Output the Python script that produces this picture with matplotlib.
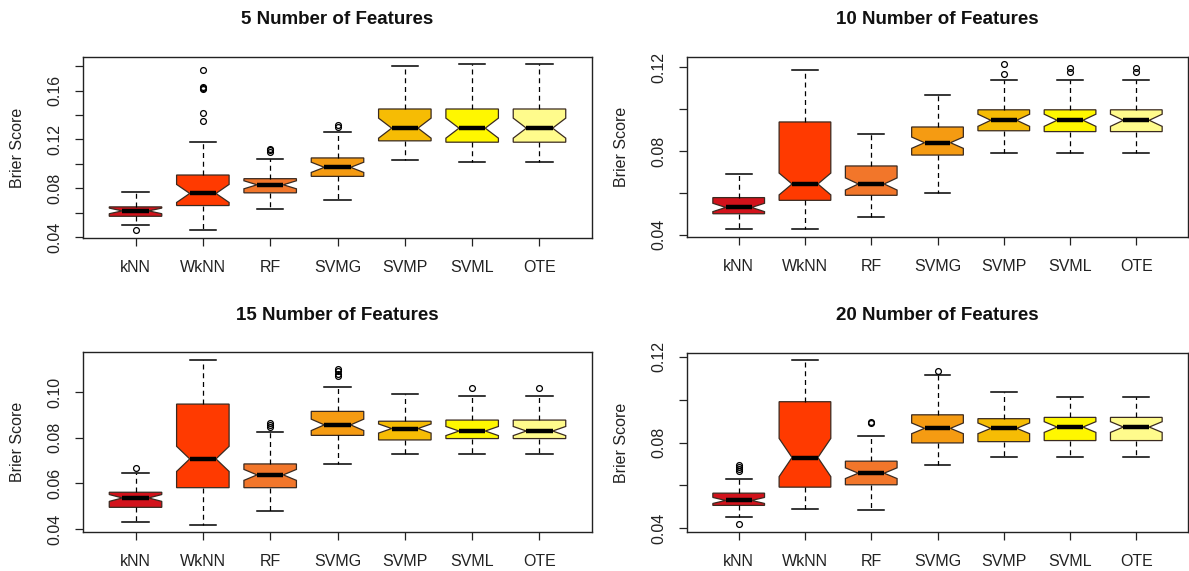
import matplotlib
matplotlib.use("Agg")
import matplotlib.pyplot as plt
import numpy as np

plt.rcParams['font.family'] = ['Liberation Sans', 'DejaVu Sans']

methods = ["kNN", "WkNN", "RF", "SVMG", "SVMP", "SVML", "OTE"]
colors = ["#D2121B", "#FF3A00", "#F2762A", "#F59B12", "#F6BC04", "#FFF700", "#FFFB8C"]
titles = ["5 Number of Features", "10 Number of Features",
          "15 Number of Features", "20 Number of Features"]

# box statistics (Brier score)
f5_whislo = [0.0496, 0.0455, 0.0633, 0.0702, 0.1029, 0.1015, 0.1015]
f5_q1 = [0.0570, 0.0658, 0.0762, 0.0897, 0.1188, 0.1177, 0.1177]
f5_med = [0.0614, 0.0757, 0.0828, 0.0971, 0.1292, 0.1292, 0.1292]
f5_q3 = [0.0647, 0.0908, 0.0878, 0.1048, 0.1449, 0.1449, 0.1449]
f5_whishi = [0.0765, 0.1180, 0.1037, 0.1260, 0.1800, 0.1814, 0.1814]
f5_notch = [0.0023, 0.0074, 0.0033, 0.0042, 0.0082, 0.0082, 0.0082]
f5_fliers = [[0.0455], [0.135, 0.142, 0.161, 0.162, 0.163, 0.1765],
             [0.110, 0.111, 0.1125], [0.130, 0.132], [], [], []]

f10_whislo = [0.0425, 0.0425, 0.0483, 0.0600, 0.0791, 0.0791, 0.0791]
f10_q1 = [0.0500, 0.0564, 0.0588, 0.0780, 0.0896, 0.0892, 0.0892]
f10_med = [0.0530, 0.0642, 0.0642, 0.0839, 0.0946, 0.0946, 0.0946]
f10_q3 = [0.0577, 0.0938, 0.0728, 0.0914, 0.0996, 0.0996, 0.0996]
f10_whishi = [0.0688, 0.1184, 0.0880, 0.1066, 0.1136, 0.1136, 0.1136]
f10_notch = [0.0020, 0.0052, 0.0029, 0.0027, 0.0029, 0.0029, 0.0029]
f10_fliers = [[], [], [], [], [0.1165, 0.1216], [0.1175, 0.1197], [0.1175, 0.1197]]

f15_whislo = [0.0432, 0.0418, 0.0480, 0.0683, 0.0727, 0.0727, 0.0727]
f15_q1 = [0.0495, 0.0581, 0.0581, 0.0810, 0.0790, 0.0796, 0.0796]
f15_med = [0.0536, 0.0707, 0.0637, 0.0856, 0.0840, 0.0829, 0.0829]
f15_q3 = [0.0561, 0.0947, 0.0685, 0.0915, 0.0872, 0.0877, 0.0877]
f15_whishi = [0.0647, 0.1140, 0.0823, 0.1022, 0.0990, 0.0984, 0.0984]
f15_notch = [0.0015, 0.0055, 0.0024, 0.0025, 0.0020, 0.0020, 0.0020]
f15_fliers = [[0.0669], [], [0.0848, 0.0857, 0.0866], [0.107, 0.108, 0.109, 0.110],
              [], [0.1016], [0.1016]]

f20_whislo = [0.0451, 0.0491, 0.0485, 0.0696, 0.0734, 0.0734, 0.0734]
f20_q1 = [0.0507, 0.0592, 0.0603, 0.0798, 0.0804, 0.0809, 0.0809]
f20_med = [0.0530, 0.0730, 0.0657, 0.0866, 0.0866, 0.0872, 0.0872]
f20_q3 = [0.0564, 0.0990, 0.0713, 0.0929, 0.0911, 0.0917, 0.0917]
f20_whishi = [0.0632, 0.1183, 0.0832, 0.1115, 0.1034, 0.1013, 0.1013]
f20_notch = [0.0014, 0.0089, 0.0025, 0.0025, 0.0025, 0.0025, 0.0025]
f20_fliers = [[0.0419, 0.0668, 0.0675, 0.0685, 0.0696], [], [0.0889, 0.0897],
              [0.1133], [], [], []]

panels = [
    (f5_whislo, f5_q1, f5_med, f5_q3, f5_whishi, f5_notch, f5_fliers),
    (f10_whislo, f10_q1, f10_med, f10_q3, f10_whishi, f10_notch, f10_fliers),
    (f15_whislo, f15_q1, f15_med, f15_q3, f15_whishi, f15_notch, f15_fliers),
    (f20_whislo, f20_q1, f20_med, f20_q3, f20_whishi, f20_notch, f20_fliers),
]
ylims = [(0.0392, 0.1875), (0.0389, 0.1248), (0.0387, 0.1175), (0.0383, 0.1217)]
yticks = [[0.04, 0.06, 0.08, 0.10, 0.12, 0.14, 0.16, 0.18],
          [0.04, 0.06, 0.08, 0.10, 0.12],
          [0.04, 0.06, 0.08, 0.10],
          [0.04, 0.06, 0.08, 0.10, 0.12]]
ylabels_shown = [[0.04, 0.08, 0.12, 0.16], [0.04, 0.08, 0.12],
                 [0.04, 0.06, 0.08, 0.10], [0.04, 0.08, 0.12]]

# axes boxes in pixels: left, right, top, bottom
W, H = 1189, 571
boxes_px = [(83, 592, 57, 238), (687, 1188, 57, 237),
            (83, 592, 352, 532), (687, 1188, 353, 532)]

fig = plt.figure(figsize=(W / 100, H / 100), dpi=100)

for i, (l, r, t, b) in enumerate(boxes_px):
    ax = fig.add_axes([l / W, 1 - b / H, (r - l) / W, (b - t) / H])
    lo, q1, med, q3, hi, nt, fl = panels[i]
    stats = []
    for j in range(len(methods)):
        stats.append(dict(med=med[j], q1=q1[j], q3=q3[j], whislo=lo[j], whishi=hi[j],
                          cilo=med[j] - nt[j], cihi=med[j] + nt[j], fliers=fl[j]))
    bp = ax.bxp(stats, positions=np.arange(1, 8), widths=0.78, shownotches=True,
                patch_artist=True,
                boxprops=dict(edgecolor="#3a2a20", linewidth=0.9),
                whiskerprops=dict(color="black", linewidth=0.9, linestyle=(0, (4, 3))),
                capprops=dict(color="black", linewidth=1.1),
                medianprops=dict(color="black", linewidth=3.2, solid_capstyle="butt"),
                flierprops=dict(marker="o", markersize=4.2, markerfacecolor="none",
                                markeredgecolor="black", markeredgewidth=0.9))
    for patch, c in zip(bp["boxes"], colors):
        patch.set_facecolor(c)

    ax.set_xlim(0.22, 7.78)
    ax.set_ylim(*ylims[i])
    ax.set_xticks(np.arange(1, 8))
    ax.set_xticklabels(methods, fontsize=11.5, color="#222222")
    ax.set_yticks(yticks[i])
    ax.set_yticklabels(["%.2f" % v if any(abs(v - s) < 1e-9 for s in ylabels_shown[i]) else ""
                        for v in yticks[i]], rotation=90, va="center",
                       fontsize=11.5, color="#222222")
    ax.tick_params(axis="both", direction="out", length=6, width=0.9, color="#222222")
    ax.tick_params(axis="y", pad=9)
    ax.tick_params(axis="x", pad=10)
    for sp in ax.spines.values():
        sp.set_linewidth(1.0)
        sp.set_color("#222222")

    ax.set_ylabel("Brier Score", fontsize=11.5, color="#222222")
    ax.yaxis.set_label_coords(-58 / (r - l), 0.5)
    ax.text(0.5, 1 + 37 / (b - t), titles[i], transform=ax.transAxes,
            ha="center", va="center", fontsize=13.5, fontweight="bold", color="#111111")

fig.savefig("out.png", dpi=100)
